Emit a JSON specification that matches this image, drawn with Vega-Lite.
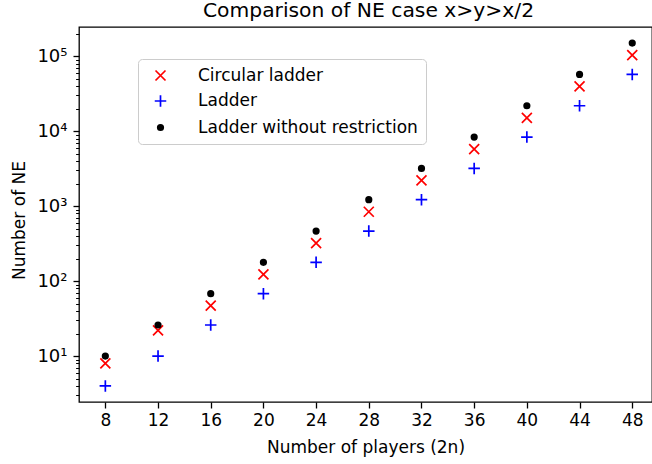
{
  "$schema": "https://vega.github.io/schema/vega-lite/v6.json",
  "autosize": {"type": "none"},
  "width": 573,
  "height": 375,
  "padding": {"left": 79, "top": 27, "right": 0, "bottom": 62},
  "background": "white",
  "title": {
    "text": "Comparison of NE case x>y>x/2",
    "font": "DejaVu Sans",
    "fontSize": 20.3,
    "fontWeight": "normal",
    "color": "black",
    "anchor": "middle",
    "baseline": "alphabetic",
    "offset": 10,
    "dy": 20,
    "dx": 3
  },
  "config": {
    "view": {"stroke": "black", "strokeWidth": 1.3},
    "axis": {
      "labelFont": "DejaVu Sans",
      "titleFont": "DejaVu Sans",
      "labelFontSize": 17,
      "titleFontSize": 17,
      "titleFontWeight": "normal",
      "labelColor": "black",
      "titleColor": "black",
      "tickColor": "black",
      "domain": false,
      "grid": false
    }
  },
  "data": {
    "values": [
      {"n": 8, "series": "Circular ladder", "value": 8},
      {"n": 12, "series": "Circular ladder", "value": 22},
      {"n": 16, "series": "Circular ladder", "value": 47},
      {"n": 20, "series": "Circular ladder", "value": 123},
      {"n": 24, "series": "Circular ladder", "value": 322},
      {"n": 28, "series": "Circular ladder", "value": 843},
      {"n": 32, "series": "Circular ladder", "value": 2207},
      {"n": 36, "series": "Circular ladder", "value": 5778},
      {"n": 40, "series": "Circular ladder", "value": 15127},
      {"n": 44, "series": "Circular ladder", "value": 39603},
      {"n": 48, "series": "Circular ladder", "value": 103682},
      {"n": 8, "series": "Ladder", "value": 4},
      {"n": 12, "series": "Ladder", "value": 10},
      {"n": 16, "series": "Ladder", "value": 26},
      {"n": 20, "series": "Ladder", "value": 68},
      {"n": 24, "series": "Ladder", "value": 178},
      {"n": 28, "series": "Ladder", "value": 466},
      {"n": 32, "series": "Ladder", "value": 1220},
      {"n": 36, "series": "Ladder", "value": 3194},
      {"n": 40, "series": "Ladder", "value": 8362},
      {"n": 44, "series": "Ladder", "value": 21892},
      {"n": 48, "series": "Ladder", "value": 57314},
      {"n": 8, "series": "Ladder without restriction", "value": 10},
      {"n": 12, "series": "Ladder without restriction", "value": 26},
      {"n": 16, "series": "Ladder without restriction", "value": 68},
      {"n": 20, "series": "Ladder without restriction", "value": 178},
      {"n": 24, "series": "Ladder without restriction", "value": 466},
      {"n": 28, "series": "Ladder without restriction", "value": 1220},
      {"n": 32, "series": "Ladder without restriction", "value": 3194},
      {"n": 36, "series": "Ladder without restriction", "value": 8362},
      {"n": 40, "series": "Ladder without restriction", "value": 21892},
      {"n": 44, "series": "Ladder without restriction", "value": 57314},
      {"n": 48, "series": "Ladder without restriction", "value": 150050}
    ]
  },
  "mark": {"type": "point", "strokeWidth": 1.7, "opacity": 1, "size": 100},
  "encoding": {
    "x": {
      "field": "n",
      "type": "quantitative",
      "scale": {"domain": [6, 49.5], "nice": false, "zero": false},
      "axis": {
        "title": "Number of players (2n)",
        "values": [8, 12, 16, 20, 24, 28, 32, 36, 40, 44, 48],
        "tickSize": 6,
        "tickWidth": 1.3,
        "labelPadding": 4,
        "titleY": 45,
        "titleBaseline": "middle"
      }
    },
    "y": {
      "field": "value",
      "type": "quantitative",
      "scale": {"type": "log", "domain": [2.44, 246000], "nice": false},
      "axis": {
        "title": "Number of NE",
        "values": [3, 4, 5, 6, 7, 8, 9, 10, 20, 30, 40, 50, 60, 70, 80, 90, 100, 200, 300, 400, 500, 600, 700, 800, 900, 1000, 2000, 3000, 4000, 5000, 6000, 7000, 8000, 9000, 10000, 20000, 30000, 40000, 50000, 60000, 70000, 80000, 90000, 100000, 200000],
        "labelExpr": "abs(log(datum.value)/LN10 - round(log(datum.value)/LN10)) < 0.000001 ? '10' + ['⁰','¹','²','³','⁴','⁵','⁶'][round(log(datum.value)/LN10)] : ''",
        "tickSize": {"condition": {"test": "abs(log(datum.value)/LN10 - round(log(datum.value)/LN10)) < 0.000001", "value": 6}, "value": 3.4},
        "tickWidth": {"condition": {"test": "abs(log(datum.value)/LN10 - round(log(datum.value)/LN10)) < 0.000001", "value": 1.3}, "value": 1},
        "labelPadding": 6,
        "labelFontSize": 18,
        "titleX": -60,
        "titleY": 193,
        "titleAngle": 270,
        "titleAlign": "center",
        "titleBaseline": "middle"
      }
    },
    "color": {
      "field": "series",
      "type": "nominal",
      "scale": {"domain": ["Circular ladder", "Ladder", "Ladder without restriction"], "range": ["#ff0000", "#0000ff", "#000000"]},
      "legend": {
        "title": null,
        "orient": "none",
        "legendX": 59,
        "legendY": 32,
        "labelFont": "DejaVu Sans",
        "labelFontSize": 17,
        "labelColor": "black",
        "labelLimit": 400,
        "strokeColor": "#cccccc",
        "fillColor": "rgba(255,255,255,0.8)",
        "cornerRadius": 4,
        "padding": 8,
        "rowPadding": 7.5,
        "labelOffset": 29,
        "symbolOffset": 6,
        "symbolSize": 100,
        "symbolStrokeWidth": 1.7
      }
    },
    "shape": {
      "field": "series",
      "type": "nominal",
      "scale": {"domain": ["Circular ladder", "Ladder", "Ladder without restriction"], "range": ["M-1,-1L1,1M-1,1L1,-1", "M0,-1.15L0,1.15M-1.15,0L1.15,0", "M0.55,0A0.55,0.55 0 1,1 -0.55,0A0.55,0.55 0 1,1 0.55,0Z"]}
    },
    "fill": {
      "field": "series",
      "type": "nominal",
      "scale": {"domain": ["Circular ladder", "Ladder", "Ladder without restriction"], "range": ["transparent", "transparent", "#000000"]}
    }
  }
}
